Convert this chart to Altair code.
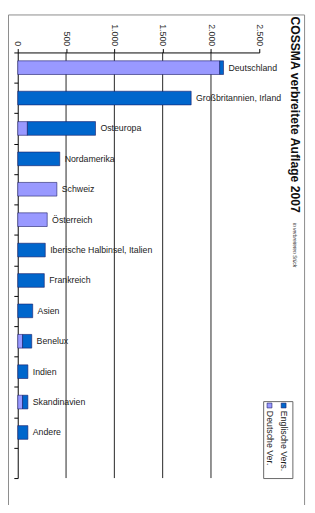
import altair as alt
import pandas as pd

categories = ["Deutschland", "Großbritannien, Irland", "Osteuropa", "Nordamerika",
              "Schweiz", "Österreich", "Iberische Halbinsel, Italien", "Frankreich",
              "Asien", "Benelux", "Indien", "Skandinavien", "Andere"]
deutsche = [2090, 0, 100, 0, 405, 305, 0, 0, 0, 50, 0, 50, 0]
englische = [40, 1795, 705, 435, 0, 0, 285, 275, 155, 95, 105, 55, 105]
series_names = ["Deutsche Ver.", "Englische Vers."]
series_colors = ["#9999ff", "#0066cc"]
x_ticks = [0, 500, 1000, 1500, 2000, 2500]
grid_values = [500, 1000, 1500, 2000]
title_text = "COSSMA verbreitete Auflage 2007"
subtitle_text = "in verbreiteten Stück"
legend_labels = ["Englische Vers.", "Deutsche Ver."]

FONT = "Liberation Sans"

rows = []
for c, d, e in zip(categories, deutsche, englische):
    if d:
        rows.append({"cat": c, "series": series_names[0], "value": d, "order": 0})
    if e:
        rows.append({"cat": c, "series": series_names[1], "value": e, "order": 1})
bars_df = pd.DataFrame(rows)
totals_df = pd.DataFrame({"cat": categories,
                          "total": [d + e for d, e in zip(deutsche, englische)]})
grid_df = pd.DataFrame({"v": grid_values})

y_domain = categories + [" "]
yscale = alt.Scale(domain=y_domain, paddingInner=0, paddingOuter=0)
xscale = alt.Scale(domain=[0, 2500], nice=False)

x_axis = alt.Axis(orient="top", values=x_ticks, labelAngle=90,
                  labelExpr="replace(format(datum.value, ','), ',', '.')",
                  grid=False, domainColor="#000000", tickColor="#000000",
                  tickSize=4, labelPadding=3, labelFont=FONT, labelFontSize=9,
                  labelColor="#333333", labelFlush=False, labelOverlap=False,
                  title=None)
y_axis = alt.Axis(labels=False, ticks=True, tickBand="extent", tickSize=4,
                  domainColor="#000000", tickColor="#000000", title=None, grid=False)

frame = alt.Chart(pd.DataFrame({"a": [0]})).mark_rect(
    fillOpacity=0, stroke="#8a8a8a", strokeWidth=1
).encode(x=alt.value(-9.5), x2=alt.value(294.5), y=alt.value(-38.5), y2=alt.value(470))

grid = alt.Chart(grid_df).mark_rule(color="#222222", strokeWidth=1).encode(
    x=alt.X("v:Q", scale=xscale, axis=x_axis)
)

bars = alt.Chart(bars_df).mark_bar(
    stroke="#1a1a66", strokeWidth=0.6, height=alt.RelativeBandSize(0.45)
).encode(
    x=alt.X("value:Q", stack="zero", scale=xscale, axis=x_axis),
    y=alt.Y("cat:N", scale=yscale, sort=y_domain, axis=y_axis),
    color=alt.Color("series:N", scale=alt.Scale(domain=series_names, range=series_colors),
                    legend=None),
    order=alt.Order("order:Q"),
)

labels = alt.Chart(totals_df).mark_text(
    align="left", baseline="middle", dx=5, font=FONT, fontSize=9, color="#222222"
).encode(
    x=alt.X("total:Q", scale=xscale, axis=x_axis),
    y=alt.Y("cat:N", scale=yscale, sort=y_domain, axis=y_axis),
    text="cat:N",
)

title = alt.Chart(pd.DataFrame({"t": [title_text]})).mark_text(
    angle=90, align="left", baseline="middle", font=FONT, fontSize=12.5,
    fontWeight="bold", color="#111111"
).encode(x=alt.value(284.5), y=alt.value(-37), text="t:N")

subtitle = alt.Chart(pd.DataFrame({"t": [subtitle_text]})).mark_text(
    angle=90, align="left", baseline="middle", font=FONT, fontSize=5,
    fontStyle="italic", color="#333333"
).encode(x=alt.value(285), y=alt.value(175), text="t:N")

legend_box = alt.Chart(pd.DataFrame({"a": [0]})).mark_rect(
    fill="white", stroke="#666666", strokeWidth=1
).encode(x=alt.value(252.5), x2=alt.value(282.5), y=alt.value(358.5), y2=alt.value(437.5))

sq_dark = alt.Chart(pd.DataFrame({"a": [0]})).mark_rect(
    fill=series_colors[1], stroke="#1a1a66", strokeWidth=0.6
).encode(x=alt.value(270.5), x2=alt.value(275.5), y=alt.value(360), y2=alt.value(365))
sq_light = alt.Chart(pd.DataFrame({"a": [0]})).mark_rect(
    fill=series_colors[0], stroke="#1a1a66", strokeWidth=0.6
).encode(x=alt.value(256), x2=alt.value(261), y=alt.value(360), y2=alt.value(365))

txt_dark = alt.Chart(pd.DataFrame({"t": [legend_labels[0]]})).mark_text(
    angle=90, align="left", baseline="middle", font=FONT, fontSize=9, color="#222222"
).encode(x=alt.value(273.5), y=alt.value(368), text="t:N")
txt_light = alt.Chart(pd.DataFrame({"t": [legend_labels[1]]})).mark_text(
    angle=90, align="left", baseline="middle", font=FONT, fontSize=9, color="#222222"
).encode(x=alt.value(259), y=alt.value(368), text="t:N")

chart = alt.layer(
    frame, grid, bars, labels, title, subtitle,
    legend_box, sq_dark, sq_light, txt_dark, txt_light
).properties(
    width=248, height=437,
    autosize=alt.AutoSizeParams(type="none"),
    padding={"left": 10, "top": 39, "right": 49, "bottom": 21},
).configure(font=FONT).configure_view(stroke=None)

chart.save("out.html", embed_options={"renderer": "svg", "actions": False})
